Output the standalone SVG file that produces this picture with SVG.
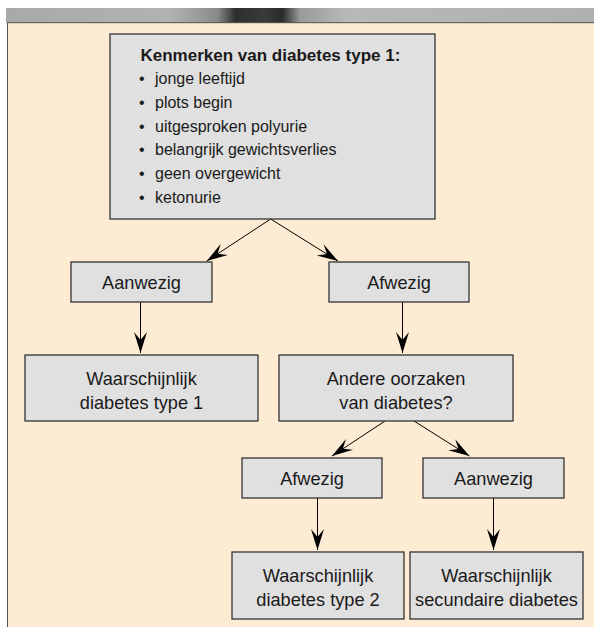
<svg xmlns="http://www.w3.org/2000/svg" width="594" height="627" viewBox="0 0 594 627">
<defs>
<linearGradient id="bar" x1="6" y1="0" x2="594" y2="0" gradientUnits="userSpaceOnUse">
<stop offset="0" stop-color="#a9a9a9"/>
<stop offset="0.28" stop-color="#b2b2b2"/>
<stop offset="0.36" stop-color="#8a8a8a"/>
<stop offset="0.39" stop-color="#2e2e2e"/>
<stop offset="0.44" stop-color="#3a3a3a"/>
<stop offset="0.47" stop-color="#2a2a2a"/>
<stop offset="0.5" stop-color="#9a9a9a"/>
<stop offset="0.58" stop-color="#b8b8b8"/>
<stop offset="1" stop-color="#b0b0b0"/>
</linearGradient>
<marker id="ah" markerUnits="userSpaceOnUse" markerWidth="24" markerHeight="16" viewBox="-22 -8 24 16" refX="0" refY="0" orient="auto">
<path d="M0,0 L-21,-6.5 L-13,0 L-21,6.5 Z" fill="#000"/>
</marker>
</defs>
<style>
.box{fill:#e0e0e0;stroke:#333;stroke-width:1.3}
.t{font-family:"Liberation Sans",Arial,sans-serif;font-size:16px;fill:#1a1a1a}
.c{text-anchor:middle;font-size:18.2px}
.b{font-weight:bold;font-size:17px}
.ln{stroke:#000;stroke-width:1;fill:none;marker-end:url(#ah)}
</style>
<rect x="0" y="0" width="594" height="627" fill="#ffffff"/>
<rect x="6" y="8" width="588" height="15" fill="url(#bar)"/>
<rect x="7" y="23" width="587" height="604" fill="#feebd4"/>
<path d="M7.5,627 V22.7 H594" stroke="#555" stroke-width="1" fill="none"/>

<g id="connectors">
<line class="ln" x1="270.7" y1="219" x2="206.7" y2="261"/>
<line class="ln" x1="270.7" y1="219" x2="338" y2="261"/>
<line class="ln" x1="140.5" y1="302" x2="140.5" y2="353"/>
<line class="ln" x1="402.5" y1="302" x2="402.5" y2="353"/>
<line class="ln" x1="385" y1="421" x2="332" y2="456"/>
<line class="ln" x1="414" y1="421" x2="469.5" y2="456"/>
<line class="ln" x1="317.5" y1="498" x2="317.5" y2="550"/>
<line class="ln" x1="493.5" y1="498" x2="493.5" y2="550"/>
</g>

<g id="kenmerken">
<rect class="box" x="110" y="34" width="325" height="185"/>
<text class="t b" x="140.5" y="60.5">Kenmerken van diabetes type 1:</text>
<text class="t" x="139" y="84">•</text><text class="t" x="155" y="84">jonge leeftijd</text>
<text class="t" x="139" y="108">•</text><text class="t" x="155" y="108">plots begin</text>
<text class="t" x="139" y="131.5">•</text><text class="t" x="155" y="131.5">uitgesproken polyurie</text>
<text class="t" x="139" y="155">•</text><text class="t" x="155" y="155">belangrijk gewichtsverlies</text>
<text class="t" x="139" y="179">•</text><text class="t" x="155" y="179">geen overgewicht</text>
<text class="t" x="139" y="202.5">•</text><text class="t" x="155" y="202.5">ketonurie</text>
</g>

<g id="aanwezig1">
<rect class="box" x="71" y="262" width="141" height="40"/>
<text class="t c" x="141.5" y="289">Aanwezig</text>
</g>
<g id="afwezig1">
<rect class="box" x="329" y="262" width="140" height="40"/>
<text class="t c" x="399" y="289">Afwezig</text>
</g>

<g id="type1">
<rect class="box" x="25" y="355" width="233" height="66"/>
<text class="t c" x="141.5" y="384.5">Waarschijnlijk</text>
<text class="t c" x="141.5" y="408.5">diabetes type 1</text>
</g>
<g id="andere">
<rect class="box" x="279" y="355" width="234" height="66"/>
<text class="t c" x="396" y="384.5">Andere oorzaken</text>
<text class="t c" x="396" y="408.5">van diabetes?</text>
</g>

<g id="afwezig2">
<rect class="box" x="242" y="458" width="140" height="40"/>
<text class="t c" x="312" y="485">Afwezig</text>
</g>
<g id="aanwezig2">
<rect class="box" x="423" y="458" width="141" height="40"/>
<text class="t c" x="493.5" y="485">Aanwezig</text>
</g>

<g id="type2">
<rect class="box" x="232" y="552" width="172" height="67"/>
<text class="t c" x="318" y="582">Waarschijnlijk</text>
<text class="t c" x="318" y="605.5">diabetes type 2</text>
</g>
<g id="secundair">
<rect class="box" x="410" y="552" width="173" height="67"/>
<text class="t c" x="496.5" y="582">Waarschijnlijk</text>
<text class="t c" x="496.5" y="605.5">secundaire diabetes</text>
</g>
</svg>
